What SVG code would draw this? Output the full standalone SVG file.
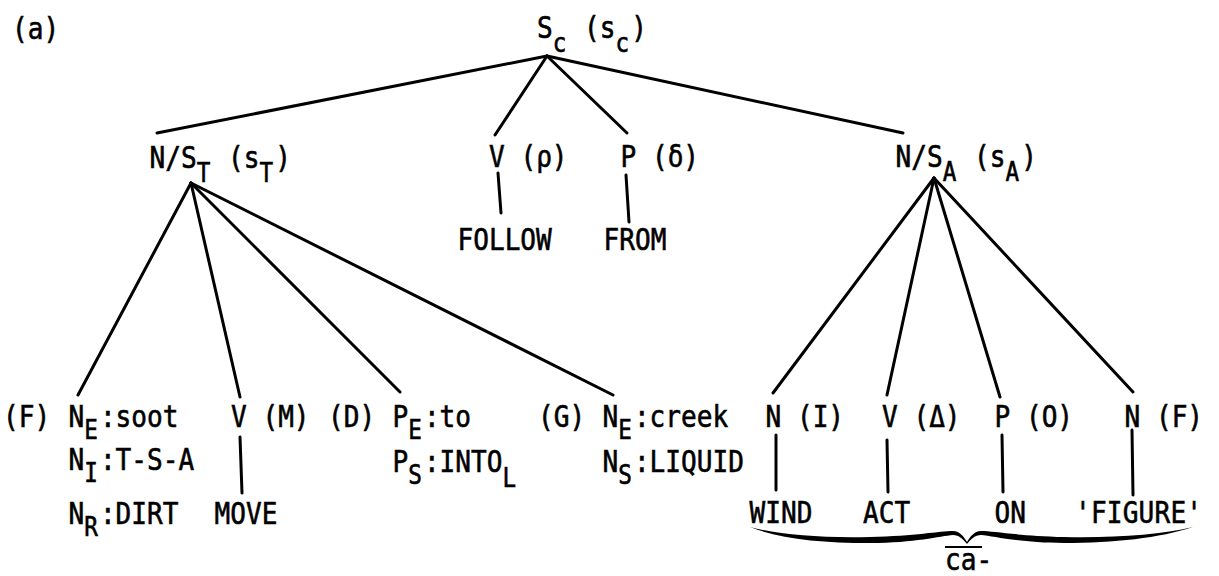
<svg xmlns="http://www.w3.org/2000/svg" width="1219" height="576" viewBox="0 0 1219 576">
<style>
.t{font-family:"DejaVu Sans Mono","Liberation Mono",monospace;font-size:30px;fill:#000;stroke:#000;stroke-width:0.6}
.s{font-size:26px}
.ln{stroke:#000;stroke-width:3;stroke-linecap:round;fill:none}
</style>
<rect width="1219" height="576" fill="#fff"/>
<text class="t" transform="translate(12,39) scale(.87,1)">(a)</text>
<g id="connectors">
<line class="ln" x1="547" y1="56" x2="157" y2="133"/>
<line class="ln" x1="547" y1="56" x2="495" y2="135"/>
<line class="ln" x1="547" y1="56" x2="627" y2="133"/>
<line class="ln" x1="547" y1="56" x2="903" y2="133"/>
<line class="ln" x1="498" y1="173" x2="501" y2="213" stroke-width="3.5"/>
<line class="ln" x1="626" y1="175" x2="629" y2="222" stroke-width="3.5"/>
<line class="ln" x1="191" y1="183" x2="78" y2="395"/>
<line class="ln" x1="191" y1="183" x2="240" y2="397"/>
<line class="ln" x1="191" y1="183" x2="400" y2="392"/>
<line class="ln" x1="191" y1="183" x2="613" y2="395"/>
<line class="ln" x1="240" y1="437" x2="242" y2="493"/>
<line class="ln" x1="934" y1="178" x2="773" y2="393"/>
<line class="ln" x1="934" y1="178" x2="887" y2="395"/>
<line class="ln" x1="934" y1="178" x2="1000" y2="397"/>
<line class="ln" x1="934" y1="178" x2="1133" y2="392"/>
<line class="ln" x1="776" y1="435" x2="776" y2="490"/>
<line class="ln" x1="887" y1="440" x2="888" y2="492"/>
<line class="ln" x1="1002" y1="435" x2="1003" y2="492"/>
<line class="ln" x1="1132" y1="430" x2="1133" y2="495"/>
</g>
<g id="n-sc"><text class="t" transform="translate(537,38) scale(.87,1)">S<tspan class="s" dy="14">c</tspan><tspan dy="-14" dx="2.4"> (s</tspan><tspan class="s" dy="14">c</tspan><tspan dy="-14" dx="2.4">)</tspan></text></g>
<g id="n-st"><text class="t" transform="translate(149.5,168) scale(.87,1)">N/S<tspan class="s" dy="14">T</tspan><tspan dy="-14" dx="2.4"> (s</tspan><tspan class="s" dy="14">T</tspan><tspan dy="-14" dx="2.4">)</tspan></text></g>
<g id="n-v-rho">
<text class="t" transform="translate(489,167) scale(.87,1)">V (ρ)</text>
<text class="t" transform="translate(457.5,250) scale(.87,1)">FOLLOW</text>
</g>
<g id="n-p-delta">
<text class="t" transform="translate(620.5,167) scale(.87,1)">P (δ)</text>
<text class="t" transform="translate(603.5,250) scale(.87,1)">FROM</text>
</g>
<g id="n-sa"><text class="t" transform="translate(895.5,167) scale(.87,1)">N/S<tspan class="s" dy="14">A</tspan><tspan dy="-14" dx="2.4"> (s</tspan><tspan class="s" dy="14">A</tspan><tspan dy="-14" dx="2.4">)</tspan></text></g>
<g id="n-figure-t">
<text class="t" transform="translate(3,427) scale(.87,1)">(F)</text>
<text class="t" transform="translate(68.5,427) scale(.87,1)">N<tspan class="s" dy="12">E</tspan><tspan dy="-12" dx="2.4">:soot</tspan></text>
<text class="t" transform="translate(68.5,470) scale(.87,1)">N<tspan class="s" dy="12">I</tspan><tspan dy="-12" dx="2.4">:T-S-A</tspan></text>
<text class="t" transform="translate(68.5,524) scale(.87,1)">N<tspan class="s" dy="12">R</tspan><tspan dy="-12" dx="2.4">:DIRT</tspan></text>
</g>
<g id="n-motion">
<text class="t" transform="translate(231,427) scale(.87,1)">V (M)</text>
<text class="t" transform="translate(214.5,524) scale(.87,1)">MOVE</text>
</g>
<g id="n-direction">
<text class="t" transform="translate(328,427) scale(.87,1)">(D)</text>
<text class="t" transform="translate(392.5,427) scale(.87,1)">P<tspan class="s" dy="12">E</tspan><tspan dy="-12" dx="2.4">:to</tspan></text>
<text class="t" transform="translate(392.5,472) scale(.87,1)">P<tspan class="s" dy="12">S</tspan><tspan dy="-12" dx="2.4">:INTO</tspan><tspan class="s" dy="15">L</tspan></text>
</g>
<g id="n-ground">
<text class="t" transform="translate(538,427) scale(.87,1)">(G)</text>
<text class="t" transform="translate(602.5,427) scale(.87,1)">N<tspan class="s" dy="12">E</tspan><tspan dy="-12" dx="2.4">:creek</tspan></text>
<text class="t" transform="translate(602.5,472) scale(.87,1)">N<tspan class="s" dy="12">S</tspan><tspan dy="-12" dx="2.4">:LIQUID</tspan></text>
</g>
<g id="n-instrument">
<text class="t" transform="translate(765.5,427) scale(.87,1)">N (I)</text>
<text class="t" transform="translate(749.5,523) scale(.87,1)">WIND</text>
</g>
<g id="n-act">
<text class="t" transform="translate(882,427) scale(.87,1)">V (Δ)</text>
<text class="t" transform="translate(863,523) scale(.87,1)">ACT</text>
</g>
<g id="n-on">
<text class="t" transform="translate(994.5,427) scale(.87,1)">P (O)</text>
<text class="t" transform="translate(994.5,523) scale(.87,1)">ON</text>
</g>
<g id="n-figure-a">
<text class="t" transform="translate(1075,523) scale(.87,1)" textLength="146" lengthAdjust="spacing">'FIGURE'</text>
<text class="t" transform="translate(1124.5,427) scale(.87,1)">N (F)</text>
</g>
<g id="brace">
<path fill="#000" d="M750,527 C780,535 820,538 870,537 C915,536 940,531 953,531 C960,531 964,537 967,542 C970,537 974,531 981,531 C994,531 1019,536 1064,537 C1114,538 1160,535 1193,527 C1160,538 1114,543 1064,543 C1019,543 994,536 981,535 C975,535 971,539 967,544 C963,539 959,535 953,535 C940,536 915,543 870,543 C820,543 780,539 750,527 Z"/>
<line x1="945" y1="547" x2="982" y2="547" stroke="#000" stroke-width="2"/>
<text class="t" transform="translate(945,570) scale(.87,1)">ca-</text>
</g>
</svg>
